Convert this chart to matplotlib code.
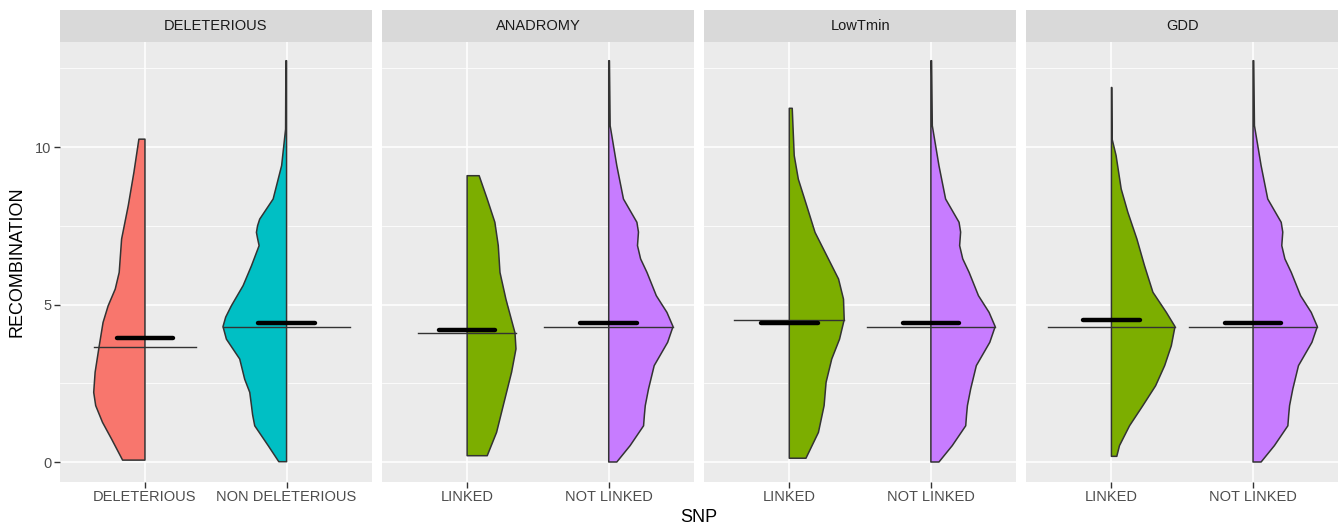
import numpy as np
import matplotlib.pyplot as plt

plt.rcParams['font.family'] = ['Liberation Sans', 'DejaVu Sans']

# facets and x categories
panels = ["DELETERIOUS", "ANADROMY", "LowTmin", "GDD"]
tick_labels = [["DELETERIOUS", "NON DELETERIOUS"],
               ["LINKED", "NOT LINKED"],
               ["LINKED", "NOT LINKED"],
               ["LINKED", "NOT LINKED"]]

# half-violin outlines: recombination value / half width
del_y = [0.06, 0.73, 1.26, 1.79, 2.21, 2.85, 3.66, 4.43, 4.96, 5.49, 6.02, 7.08, 8.14, 9.20, 10.25]
del_w = [0.158, 0.236, 0.30, 0.348, 0.362, 0.352, 0.324, 0.296, 0.26, 0.21, 0.182, 0.165, 0.118, 0.078, 0.043]

nondel_y = [0.01, 0.52, 1.15, 1.50, 1.79, 2.21, 2.63, 3.27, 3.90, 4.30, 4.60, 4.96, 5.60, 6.23, 6.87,
            7.10, 7.29, 7.50, 7.71, 8.35, 9.41, 10.57, 12.74]
nondel_w = [0.055, 0.13, 0.225, 0.24, 0.248, 0.26, 0.296, 0.331, 0.425, 0.449, 0.43, 0.39, 0.307, 0.248,
            0.194, 0.205, 0.213, 0.205, 0.19, 0.095, 0.035, 0.007, 0.005]

anad_y = [0.20, 0.94, 1.79, 2.85, 3.59, 4.10, 5.17, 6.02, 6.87, 7.61, 8.35, 9.09]
anad_w = [0.142, 0.208, 0.255, 0.314, 0.345, 0.338, 0.274, 0.232, 0.22, 0.196, 0.142, 0.085]

lowt_y = [0.12, 0.94, 1.79, 2.53, 3.27, 3.90, 4.52, 5.17, 5.81, 6.55, 7.29, 8.14, 8.98, 9.73, 10.47, 11.23]
lowt_w = [0.118, 0.206, 0.246, 0.26, 0.30, 0.355, 0.388, 0.383, 0.348, 0.265, 0.182, 0.123, 0.064, 0.035, 0.028, 0.021]

gdd_y = [0.18, 0.52, 1.15, 1.79, 2.42, 3.06, 3.69, 4.30, 4.75, 5.39, 6.23, 7.08, 7.93, 8.67, 9.73, 10.25, 11.89]
gdd_w = [0.038, 0.057, 0.128, 0.222, 0.312, 0.376, 0.423, 0.449, 0.388, 0.293, 0.234, 0.18, 0.116, 0.069, 0.033, 0.005, 0.003]

notlinked_y = [0.0, 0.52, 1.15, 1.50, 1.79, 2.32, 3.06, 3.80, 4.30, 4.75, 5.28, 6.02, 6.45, 6.87,
               7.30, 7.61, 8.35, 9.41, 10.68, 12.74]
notlinked_w = [0.057, 0.151, 0.246, 0.252, 0.258, 0.281, 0.321, 0.416, 0.454, 0.411, 0.336, 0.27, 0.225,
               0.203, 0.21, 0.199, 0.104, 0.057, 0.01, 0.005]

violins = [[(del_y, del_w), (nondel_y, nondel_w)],
           [(anad_y, anad_w), (notlinked_y, notlinked_w)],
           [(lowt_y, lowt_w), (notlinked_y, notlinked_w)],
           [(gdd_y, gdd_w), (notlinked_y, notlinked_w)]]
sides = [[-1, -1], [1, 1], [1, 1], [1, 1]]

medians = [[3.66, 4.30], [4.10, 4.30], [4.52, 4.29], [4.30, 4.30]]
means = [[3.93, 4.41], [4.20, 4.41], [4.42, 4.41], [4.51, 4.41]]

colors = [["#F8766D", "#00BFC4"], ["#7CAE00", "#C77CFF"],
          ["#7CAE00", "#C77CFF"], ["#7CAE00", "#C77CFF"]]

fig, axes = plt.subplots(1, 4, figsize=(13.44, 5.3), dpi=100, sharey=True)
fig.subplots_adjust(left=60/1344, right=1338/1344, bottom=1-482/530, top=1-42/530, wspace=0.034)

for p, ax in enumerate(axes):
    ax.set_facecolor('#EBEBEB')
    for s in ax.spines.values():
        s.set_visible(False)
    ax.set_xlim(0.4, 2.6)
    ax.set_ylim(-0.635, 13.335)
    ax.set_xticks([1, 2])
    ax.set_xticklabels(tick_labels[p])
    ax.set_yticks([0, 5, 10])
    ax.set_yticks([2.5, 7.5, 12.5], minor=True)
    ax.grid(which='major', color='white', lw=1.1)
    ax.grid(which='minor', axis='y', color='white', lw=0.55)
    ax.set_axisbelow(True)
    ax.tick_params(which='major', length=4, width=1, color='#333333',
                   labelcolor='#4D4D4D', labelsize=10.5, pad=2)
    ax.tick_params(which='minor', length=0)
    if p > 0:
        ax.tick_params(axis='y', left=False)

    for i, (vy, vw) in enumerate(violins[p]):
        c = i + 1
        vy = np.array(vy)
        vw = np.array(vw)
        xs = np.concatenate([[c], c + sides[p][i] * vw, [c]])
        ys = np.concatenate([[vy[0]], vy, [vy[-1]]])
        ax.fill(xs, ys, facecolor=colors[p][i], edgecolor='#333333', lw=1.1,
                joinstyle='round', zorder=2)
        wmax = vw.max()
        ax.plot([c - wmax, c + wmax], [medians[p][i]] * 2, color='#333333', lw=1.0, zorder=3)
        ax.plot([c - 0.2, c + 0.2], [means[p][i]] * 2, color='black', lw=3.2,
                solid_capstyle='round', zorder=4)

    # facet strip
    pos = ax.get_position()
    strip = fig.add_axes([pos.x0, pos.y1, pos.width, 32/530])
    strip.set_facecolor('#D9D9D9')
    strip.set_xticks([])
    strip.set_yticks([])
    for s in strip.spines.values():
        s.set_visible(False)
    strip.text(0.5, 0.5, panels[p], ha='center', va='center', fontsize=10.5, color='#1A1A1A')

fig.text(17/1344, 1-262/530, 'RECOMBINATION', rotation=90, ha='center', va='center', fontsize=13)
fig.text(699/1344, 1-517/530, 'SNP', ha='center', va='center', fontsize=13)

fig.savefig('out.png', dpi=100)
